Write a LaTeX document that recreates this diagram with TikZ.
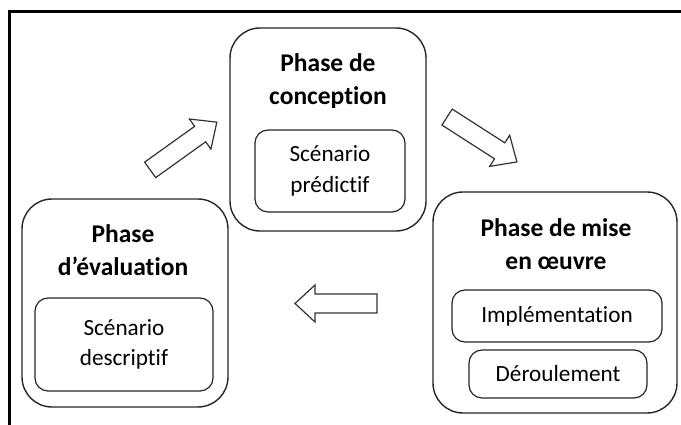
\documentclass[tikz,border=0pt]{standalone}
\usepackage{fontspec}
\setmainfont{Carlito}[Ligatures=NoCommon]
\begin{document}
\begin{tikzpicture}[x=1pt,y=-1pt,
  outerbox/.style={draw=black!85, line width=1.4pt, rounded corners=30pt, inner sep=0pt},
  innerbox/.style={draw=black!85, line width=1.2pt, rounded corners=13pt, inner sep=0pt, align=center, font=\fontsize{23.2}{30.5}\selectfont},
  titletext/.style={align=center, inner sep=0pt, font=\fontsize{25.5}{32.5}\selectfont\bfseries},
  blockarrow/.style={draw=black!80, line width=1.2pt, line join=miter, fill=white}]
\useasboundingbox (0,0) rectangle (681,425);
\fill[white] (0,0) rectangle (681,425);
% frame
\draw[line width=3pt, line cap=rect] (9.5,425) -- (9.5,11.5) -- (681,11.5);
% conception
\node[outerbox, minimum width=196pt, minimum height=203pt] (conc) at (328,129.5) {};
\node[titletext] (conct) at (328,81) {Phase de\\conception};
\node[innerbox, minimum width=150pt, minimum height=82pt] (pred) at (330,171) {Scénario\\prédictif};
% evaluation
\node[outerbox, minimum width=206pt, minimum height=208pt] (eval) at (125,303) {};
\node[titletext] (evalt) at (123,250) {Phase\\d’évaluation};
\node[innerbox, minimum width=178pt, minimum height=93pt] (desc) at (124,344.5) {Scénario\\descriptif};
% mise en oeuvre
\node[outerbox, minimum width=244pt, minimum height=221pt] (mise) at (555,302.5) {};
\node[titletext] (miset) at (556,244) {Phase de mise\\en œuvre};
\node[innerbox, minimum width=210pt, minimum height=52pt] (impl) at (557,316) {Implémentation};
\node[innerbox, minimum width=178pt, minimum height=48pt] (der) at (558,374) {Déroulement};
% block arrows
\draw[blockarrow, shift={(183.5,146)}, rotate=35.6]
  (-41,-9.5) -- (20.5,-9.5) -- (20.5,-18.5) -- (41,0) -- (20.5,18.5) -- (20.5,9.5) -- (-41,9.5) -- cycle;
\draw[blockarrow, shift={(482,139.5)}, rotate=-32.7]
  (-41.5,-9.5) -- (21,-9.5) -- (21,-18.5) -- (41.5,0) -- (21,18.5) -- (21,9.5) -- (-41.5,9.5) -- cycle;
\draw[blockarrow, shift={(336,303.5)}, rotate=180]
  (-41,-9.5) -- (21,-9.5) -- (21,-18.5) -- (41,0) -- (21,18.5) -- (21,9.5) -- (-41,9.5) -- cycle;
\end{tikzpicture}
\end{document}
